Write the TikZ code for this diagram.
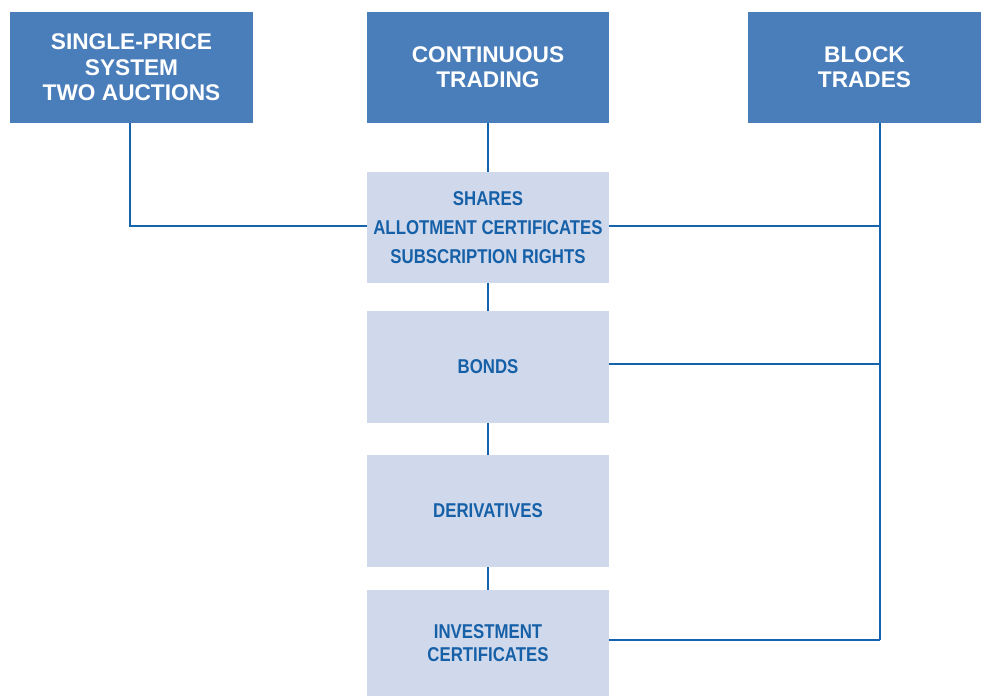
\documentclass[tikz,border=0pt]{standalone}
\usepackage{fontspec}
\setmainfont{Liberation Sans}
\newfontfamily\narrowbold[FakeStretch=0.84]{Liberation Sans Bold}
\definecolor{headblue}{RGB}{74,126,187}
\definecolor{paleblue}{RGB}{208,217,235}
\definecolor{inkblue}{RGB}{22,96,168}
\definecolor{wireblue}{RGB}{21,99,172}
\usetikzlibrary{positioning,calc}

\tikzset{
  headbox/.style={fill=headblue, text=white, font=\fontsize{17}{19}\selectfont\bfseries,
                  align=center, minimum height=83.25pt, inner sep=0pt},
  itembox/.style={fill=paleblue, text=inkblue, font=\fontsize{15}{22}\selectfont\narrowbold,
                  align=center, minimum width=181.5pt, inner sep=0pt},
  wire/.style={draw=wireblue, line width=1.5pt}
}

\begin{document}
\begin{tikzpicture}[x=0.75pt,y=-0.75pt]
    \useasboundingbox (0,0) rectangle (981,696);
    % Trading segments
    \node[headbox, minimum width=182.25pt] (auction) at (131.5,67.5) {SINGLE-PRICE\\SYSTEM\\TWO AUCTIONS};
    \node[headbox, minimum width=181.5pt]  (continuous) at (488,67.5) {CONTINUOUS\\TRADING};
    \node[headbox, minimum width=174.75pt] (block) at (864.5,67.5) {BLOCK\\TRADES};
    % Instrument groups
    \node[itembox, minimum height=83.25pt] (shares) at (488,227.5) {SHARES\\ALLOTMENT CERTIFICATES\\SUBSCRIPTION RIGHTS};
    \node[itembox, minimum height=84pt]    (bonds) at (488,367) {BONDS};
    \node[itembox, minimum height=84pt]    (derivatives) at (488,511) {DERIVATIVES};
    \node[itembox, minimum height=79.5pt, font=\fontsize{15}{17.25}\selectfont\narrowbold]
                                           (investment) at (488,643) {INVESTMENT\\CERTIFICATES};
    % Connectors
    \coordinate (trunk) at (880,123);
    \coordinate (trunkend) at (880,640);
    \draw[wire] (auction.south -| 130,0) |- (shares.west |- 0,226);
    \draw[wire] (continuous) -- (shares);
    \foreach \a/\b in {shares/bonds, bonds/derivatives, derivatives/investment}
      \draw[wire] (\a.south) -- (\b.north);
    \draw[wire] (trunk) -- (trunkend);
    \foreach \n/\y in {shares/226, bonds/364, investment/640}
      \draw[wire] (\n.east |- 0,\y) -- (880,\y);
\end{tikzpicture}
\end{document}
